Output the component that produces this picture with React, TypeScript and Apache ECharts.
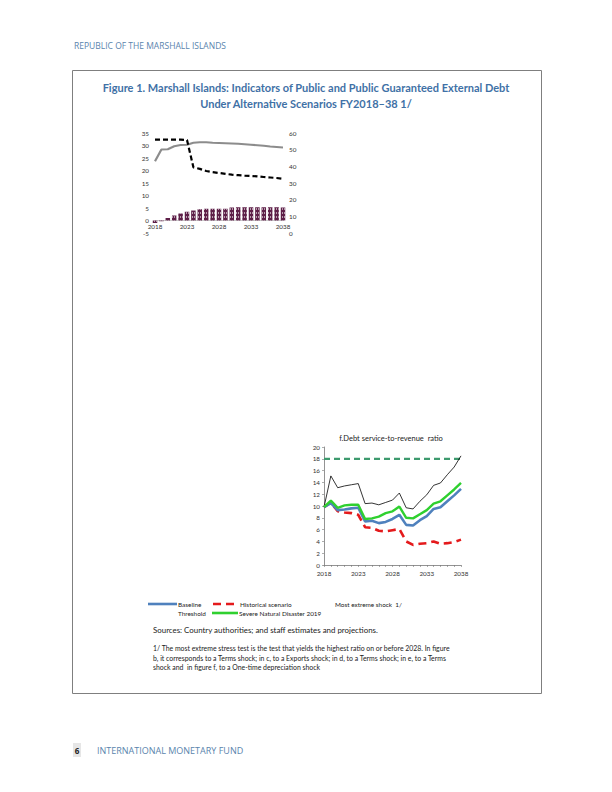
import React, { useEffect, useRef } from "react";
import * as echarts from "echarts";

const years = ["2018","2019","2020","2021","2022","2023","2024","2025","2026","2027","2028","2029","2030","2031","2032","2033","2034","2035","2036","2037","2038"];

// Panel a (debt accumulation)
const debtAccumulation = [-1.0, -0.3, 1.0, 2.0, 2.8, 3.5, 4.0, 4.5, 4.7, 4.7, 4.7, 4.7, 5.2, 5.3, 5.3, 5.3, 5.3, 5.3, 5.3, 5.3, 5.2];
const grantEquivalent = [23.7, 28.4, 28.5, 29.7, 30.2, 30.3, 31.1, 31.3, 31.3, 31.1, 31.0, 30.9, 30.8, 30.7, 30.5, 30.3, 30.1, 29.9, 29.6, 29.4, 29.2];
const grantElement = [56.0, 56.0, 56.0, 56.0, 56.0, 55.8, 39.4, 38.5, 37.2, 36.5, 36.0, 35.5, 35.0, 34.7, 34.4, 34.2, 34.0, 33.6, 33.3, 33.0, 32.5];
const leftTicks = { min: -5, max: 35, interval: 5 };
const rightTicks = { min: 0, max: 60, interval: 10 };

// Panel f (debt service-to-revenue ratio)
const baseline = [9.8, 10.5, 9.3, 9.4, 9.6, 9.7, 7.4, 7.5, 7.1, 7.3, 7.8, 8.5, 6.8, 6.7, 7.6, 8.3, 9.5, 9.8, 10.8, 11.8, 12.9];
const historical = [9.8, 10.6, 9.1, 8.9, 8.8, 8.5, 6.4, 6.3, 5.8, 5.7, 5.9, 6.1, 4.0, 3.4, 3.6, 3.7, 4.0, 3.6, 3.7, 3.9, 4.3];
const extremeShock = [9.8, 15.1, 13.1, 13.4, 13.6, 13.8, 10.4, 10.5, 10.2, 10.6, 11.0, 12.2, 9.7, 9.5, 10.8, 11.9, 13.5, 13.9, 15.3, 16.6, 18.5];
const naturalDisaster = [9.8, 10.9, 9.7, 10.1, 10.2, 10.2, 7.8, 7.9, 8.2, 8.8, 9.1, 9.9, 8.0, 7.9, 8.6, 9.3, 10.4, 10.8, 11.8, 12.8, 13.9];
const threshold = years.map(() => 18);
const fTicks = { min: 0, max: 20, interval: 2 };

const headerText = "REPUBLIC OF THE MARSHALL ISLANDS";
const titleLines = [
  "Figure 1. Marshall Islands: Indicators of Public and Public Guaranteed External Debt",
  "Under Alternative Scenarios FY2018–38 1/",
];
const panelFTitle = "f.Debt service-to-revenue  ratio";
const sourcesText = "Sources: Country authorities; and staff estimates and projections.";
const footnoteLines = [
  "1/ The most extreme stress test is the test that yields the highest ratio on or before 2028. In figure",
  "b, it corresponds to a Terms shock; in c, to a Exports shock; in d, to a Terms shock; in e, to a Terms",
  "shock and  in figure f, to a One-time depreciation shock",
];
const footerText = "INTERNATIONAL MONETARY FUND";

const BLUE = "#4f81bd";
const RED = "#e41a1c";
const GREEN = "#2fd02f";
const TEAL = "#3d9a6e";
const HEAD = "#5a84ad";
const TITLE = "#3f71a6";
const FONT = "Lato, 'Open Sans', sans-serif";

export default function App() {
  const ref = useRef<HTMLDivElement>(null);
  useEffect(() => {
    if (!ref.current) return;
    const chart = echarts.init(ref.current, null, { renderer: "svg" });
    const axisLabelSmall = { fontSize: 6.3, color: "#333", fontFamily: FONT };
    // pixel distance between the bottom (-5) and zero of the left axis
    const gridAHeight = 100;
    const zeroOffset = -gridAHeight * (0 - leftTicks.min) / (leftTicks.max - leftTicks.min);
    const option: any = {
      animation: false,
      textStyle: { fontFamily: FONT },
      grid: [
        { left: 155, top: 133, width: 128, height: gridAHeight },
        { left: 324, top: 447, width: 137, height: 118 },
      ],
      xAxis: [
        {
          type: "category", gridIndex: 0, data: years, boundaryGap: false, position: "bottom",
          offset: zeroOffset,
          axisLine: { onZero: false, lineStyle: { color: "#aaa", width: 0.6 } },
          axisTick: { show: false },
          axisLabel: { ...axisLabelSmall, interval: 4, margin: 3 },
        },
        {
          type: "category", gridIndex: 1, data: years, boundaryGap: false,
          axisLine: { lineStyle: { color: "#777", width: 0.8 } },
          axisTick: { show: true, interval: 0, length: 2, inside: false, lineStyle: { color: "#777", width: 0.6 } },
          axisLabel: { ...axisLabelSmall, interval: 4, margin: 5 },
        },
      ],
      yAxis: [
        {
          type: "value", gridIndex: 0, ...leftTicks,
          axisLine: { show: false }, axisTick: { show: false }, splitLine: { show: false },
          axisLabel: { ...axisLabelSmall, margin: 6 },
        },
        {
          type: "value", gridIndex: 0, position: "right", ...rightTicks,
          axisLine: { show: false }, axisTick: { show: false }, splitLine: { show: false },
          axisLabel: { ...axisLabelSmall, margin: 6 },
        },
        {
          type: "value", gridIndex: 1, ...fTicks,
          axisLine: { show: true, lineStyle: { color: "#777", width: 0.8 } },
          axisTick: { show: true, length: 2, lineStyle: { color: "#777", width: 0.6 } },
          splitLine: { show: false },
          axisLabel: { ...axisLabelSmall, margin: 4 },
        },
      ],
      series: [
        {
          type: "bar", xAxisIndex: 0, yAxisIndex: 0, data: debtAccumulation, barWidth: 4.5,
          itemStyle: {
            color: "#5e1f48",
            decal: { symbol: "rect", symbolSize: 1, color: "rgba(255,255,255,0.55)", dashArrayX: [1, 1], dashArrayY: [2, 2], rotation: 0 },
          },
        },
        {
          type: "line", xAxisIndex: 0, yAxisIndex: 0, data: grantEquivalent, symbol: "none",
          lineStyle: { color: "#8c8c8c", width: 2.2 },
        },
        {
          type: "line", xAxisIndex: 0, yAxisIndex: 1, data: grantElement, symbol: "none",
          lineStyle: { color: "#000", width: 2.2, type: [5, 3] },
        },
        {
          type: "line", xAxisIndex: 1, yAxisIndex: 2, data: threshold, symbol: "none",
          lineStyle: { color: TEAL, width: 2.2, type: [6, 4] },
        },
        {
          type: "line", xAxisIndex: 1, yAxisIndex: 2, data: extremeShock, symbol: "none",
          lineStyle: { color: "#000", width: 0.8 },
        },
        {
          type: "line", xAxisIndex: 1, yAxisIndex: 2, data: historical, symbol: "none",
          lineStyle: { color: RED, width: 2.6, type: [8, 5] },
        },
        {
          type: "line", xAxisIndex: 1, yAxisIndex: 2, data: baseline, symbol: "none",
          lineStyle: { color: BLUE, width: 2.6 },
        },
        {
          type: "line", xAxisIndex: 1, yAxisIndex: 2, data: naturalDisaster, symbol: "none",
          lineStyle: { color: GREEN, width: 2.4 },
        },
      ],
      graphic: [
        { type: "text", x: 74, y: 45, style: { text: headerText, fontSize: 8.5, fill: HEAD, fontFamily: "'Open Sans', sans-serif", verticalAlign: "middle" } },
        { type: "rect", shape: { x: 72.5, y: 70.5, width: 469, height: 623 }, style: { fill: "none", stroke: "#7f7f7f", lineWidth: 1 } },
        { type: "text", x: 306, y: 87, style: { text: titleLines[0], fontSize: 11, fontWeight: "bold", fill: TITLE, fontFamily: FONT, align: "center", verticalAlign: "middle" } },
        { type: "text", x: 306, y: 103, style: { text: titleLines[1], fontSize: 11, fontWeight: "bold", fill: TITLE, fontFamily: FONT, align: "center", verticalAlign: "middle" } },
        { type: "text", x: 391, y: 438, style: { text: panelFTitle, fontSize: 7.5, fill: "#222", fontFamily: FONT, align: "center", verticalAlign: "middle" } },
        // legend
        { type: "line", shape: { x1: 148, y1: 604, x2: 177, y2: 604 }, style: { stroke: BLUE, lineWidth: 2.6 } },
        { type: "text", x: 178, y: 604, style: { text: "Baseline", fontSize: 6.4, fill: "#222", fontFamily: FONT, verticalAlign: "middle" } },
        { type: "line", shape: { x1: 213, y1: 604, x2: 238, y2: 604 }, style: { stroke: RED, lineWidth: 2.6, lineDash: [8, 5] } },
        { type: "text", x: 240, y: 604, style: { text: "Historical scenario", fontSize: 6.4, fill: "#222", fontFamily: FONT, verticalAlign: "middle" } },
        { type: "text", x: 335, y: 604, style: { text: "Most extreme shock  1/", fontSize: 6.4, fill: "#222", fontFamily: FONT, verticalAlign: "middle" } },
        { type: "text", x: 178, y: 613, style: { text: "Threshold", fontSize: 6.4, fill: "#222", fontFamily: FONT, verticalAlign: "middle" } },
        { type: "line", shape: { x1: 212, y1: 613, x2: 238, y2: 613 }, style: { stroke: GREEN, lineWidth: 2.6 } },
        { type: "text", x: 239, y: 613, style: { text: "Severe Natural Disaster 2019", fontSize: 6.4, fill: "#222", fontFamily: FONT, verticalAlign: "middle" } },
        // sources & footnote
        { type: "text", x: 153, y: 630, style: { text: sourcesText, fontSize: 7.9, fill: "#222", fontFamily: FONT, verticalAlign: "middle" } },
        ...footnoteLines.map((t, i) => ({ type: "text", x: 153, y: 648 + i * 9.5, style: { text: t, fontSize: 6.9, fill: "#222", fontFamily: FONT, verticalAlign: "middle" } })),
        // footer
        { type: "rect", shape: { x: 73, y: 743, width: 8, height: 14 }, style: { fill: "#e6e6e6" } },
        { type: "text", x: 77, y: 750, style: { text: "6", fontSize: 8, fontWeight: "bold", fill: "#222", fontFamily: "'Open Sans', sans-serif", align: "center", verticalAlign: "middle" } },
        { type: "text", x: 97, y: 750, style: { text: footerText, fontSize: 9, fill: HEAD, fontFamily: "'Open Sans', sans-serif", verticalAlign: "middle" } },
      ],
    };
    chart.setOption(option);
    return () => chart.dispose();
  }, []);
  return <div ref={ref} style={{ position: "absolute", left: 0, top: 0, width: 612, height: 792, background: "#fff" }} />;
}
